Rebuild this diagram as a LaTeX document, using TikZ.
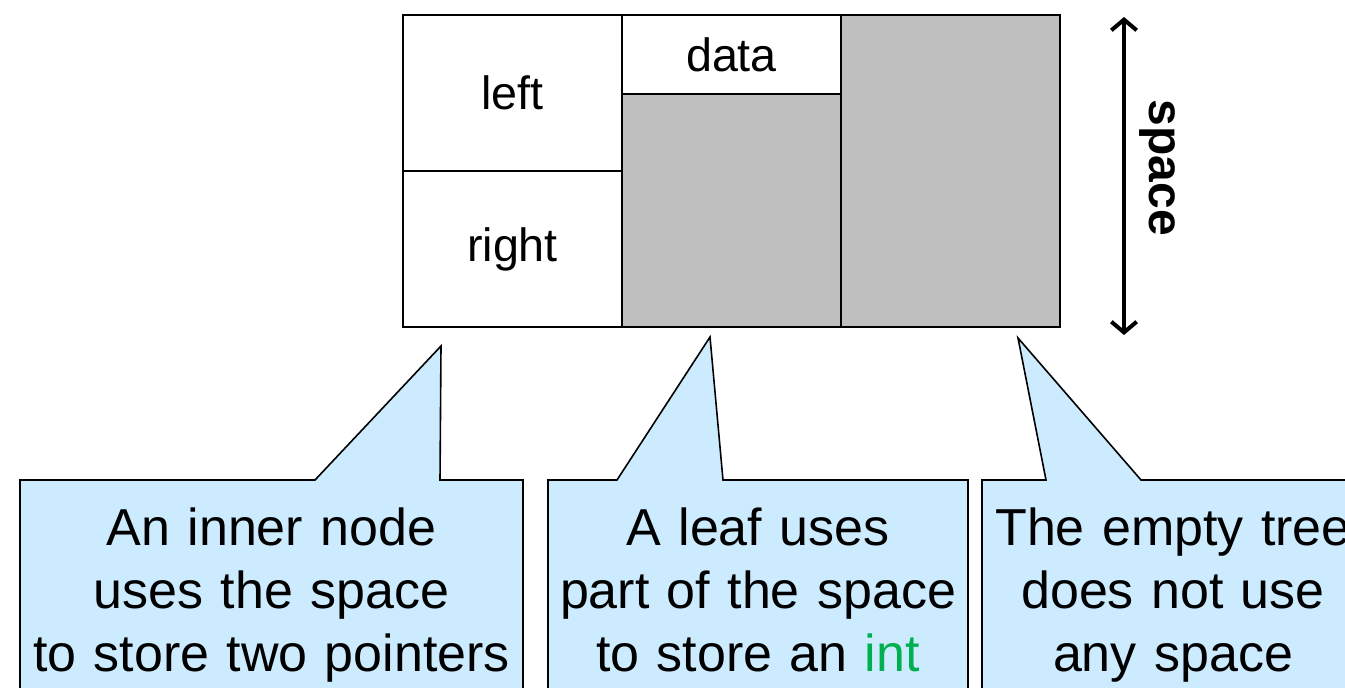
\documentclass[tikz,border=0pt]{standalone}
\usepackage{fontspec}
\setmainfont{Liberation Sans}
\usetikzlibrary{arrows.meta}
\definecolor{cellgray}{HTML}{BFBFBF}
\definecolor{calloutblue}{HTML}{CCEBFF}
\definecolor{intgreen}{HTML}{00B050}

\begin{document}
\begin{tikzpicture}[x=0.75pt, y=-0.75pt,
	cell/.style={draw, line width=1.5pt, inner sep=0pt, outer sep=0pt, anchor=north west,
		minimum width=164.25pt, font=\fontsize{35}{42}\selectfont},
	callout/.style={draw, fill=calloutblue, line width=1.2pt},
	calltext/.style={anchor=base, align=center, text width=375pt, inner sep=0pt,
		font=\fontsize{39}{47.25}\selectfont}]
	\useasboundingbox (0,0) rectangle (1345,688);
	\clip (0,0) rectangle (1345,688);
% the memory block
	\node[cell, minimum height=117pt] (left) at (403,15) {left};
	\node[cell, minimum height=117pt] (right) at (left.south west) {right};
	\node[cell, minimum height=59.25pt] (data) at (left.north east) {data};
	\node[cell, fill=cellgray, minimum height=174.75pt] (unused) at (data.south west) {};
	\node[cell, fill=cellgray, minimum height=234pt] (empty) at (data.north east) {};
% size of the block
	\coordinate (spacetop) at (1124,17);
	\coordinate (spacebot) at (1124,335);
	\draw[line width=3pt, {Straight Barb[length=8pt,width=19pt]}-{Straight Barb[length=8pt,width=19pt]}]
		(spacetop) -- (spacebot);
	\node[rotate=-90, font=\fontsize{36}{43}\selectfont\bfseries] (space) at (1157,168) {space};
% callouts
	\coordinate (tip1) at (441,346);
	\coordinate (tip2) at (710,337);
	\coordinate (tip3) at (1018,338);
	\draw[callout] (20,720) -- (20,480) -- (315,480) -- (tip1) -- (440,480) -- (523,480) -- (523,720) -- cycle;
	\draw[callout] (548,720) -- (548,480) -- (617,480) -- (tip2) -- (723,480) -- (968,480) -- (968,720) -- cycle;
	\draw[callout] (982,720) -- (982,480) -- (1046,480) -- (tip3) -- (1141,480) -- (1364,480) -- (1364,720) -- cycle;
	\node[calltext] (inner) at (271.5,545) {An inner node\\uses the space\\to store two pointers};
	\node[calltext] (leaf) at (758,545) {A leaf uses\\part of the space\\to store an \textcolor{intgreen}{int}};
	\node[calltext] (emptytree) at (1173,545) {The empty tree\\does not use\\any space};
\end{tikzpicture}
\end{document}
